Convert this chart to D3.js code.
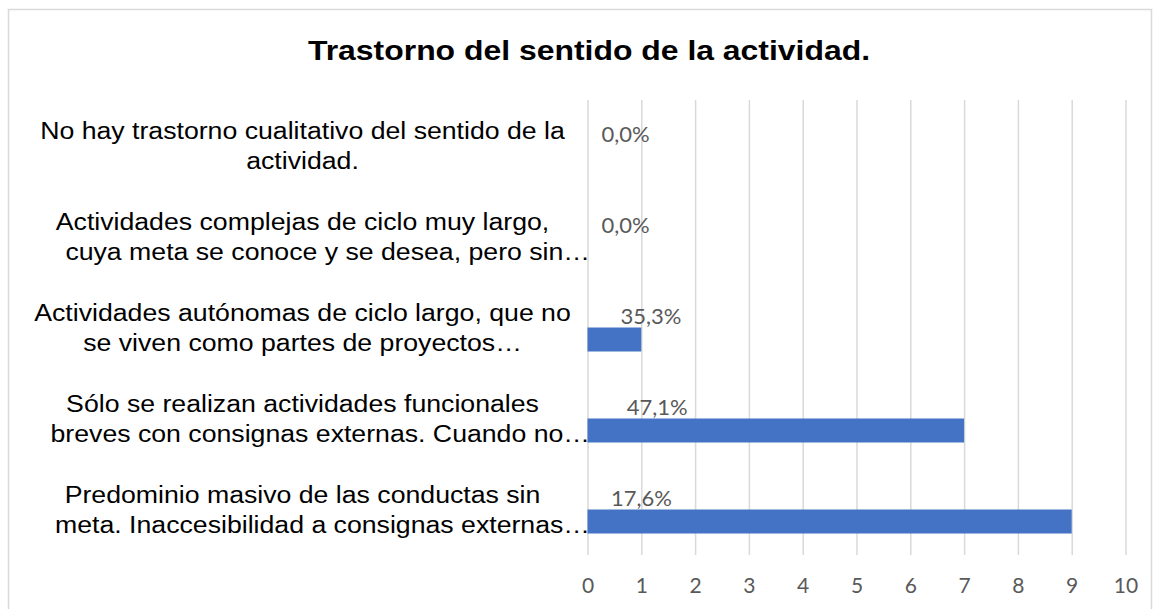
<!DOCTYPE html>
<html>
<head>
<meta charset="utf-8">
<script src="https://cdn.jsdelivr.net/npm/d3@7"></script>
<style>
  body { margin: 0; background: #fff; }
</style>
</head>
<body>
<svg id="chart" width="1153" height="609"></svg>
<script>
// chart data
var title = "Trastorno del sentido de la actividad."
var categoryLines = [
  ["No hay trastorno cualitativo del sentido de la", "actividad."],
  ["Actividades complejas de ciclo muy largo,", "cuya meta se conoce y se desea, pero sin\u2026"],
  ["Actividades autónomas de ciclo largo, que no", "se viven como partes de proyectos\u2026"],
  ["Sólo se realizan actividades funcionales", "breves con consignas externas. Cuando no\u2026"],
  ["Predominio masivo de las conductas sin", "meta. Inaccesibilidad a consignas externas\u2026"]
]
var counts = [0, 0, 1, 7, 9]
var percents = [0.0, 0.0, 35.3, 47.1, 17.6]
var xTicks = [0, 1, 2, 3, 4, 5, 6, 7, 8, 9, 10]

var svg = d3.select("#chart")
var width = 1153
var height = 609
var plot = { left: 587.5, right: 1125.5, top: 100, bottom: 555 }

var esLocale = d3.formatLocale({ decimal: ",", thousands: ".", grouping: [3], currency: ["", "\u20ac"] })
var fmtPct = esLocale.format(".1f")

var rows = categoryLines.map(function(lines, i) {
  return { key: "c" + i, lines: lines, count: counts[i], pct: percents[i] }
})

var x = d3.scaleLinear().domain([0, 10]).range([plot.left, plot.right])
var y = d3.scaleBand().domain(rows.map(d => d.key)).range([plot.top, plot.bottom])
var barH = 24
var sub = d3.scaleBand().domain(["pct", "count"])
  .range([y.bandwidth() / 2 - barH, y.bandwidth() / 2 + barH])

// chart border
svg.append("rect")
  .attr("x", 8.5).attr("y", 9.5)
  .attr("width", width - 10).attr("height", height + 20)
  .attr("fill", "none")
  .attr("stroke", "#d9d9d9")
  .attr("stroke-width", 1.5)

// title (the source picture is stretched sideways a bit)
svg.append("text")
  .attr("transform", "translate(589,60) scale(1.14,1)")
  .attr("text-anchor", "middle")
  .style("font-family", "'Liberation Sans', Arial, sans-serif")
  .style("font-weight", "bold")
  .style("font-size", "28px")
  .attr("fill", "#000")
  .text(title)

// gridlines
svg.append("g")
  .attr("transform", "translate(0," + plot.bottom + ")")
  .call(d3.axisBottom(x).tickValues(xTicks).tickSize(-(plot.bottom - plot.top)).tickFormat(""))
  .call(g => g.select(".domain").remove())
  .call(g => g.selectAll("line").attr("stroke", "#d9d9d9").attr("stroke-width", 1.5))

// tick labels
svg.append("g")
  .attr("transform", "translate(0," + plot.bottom + ")")
  .call(d3.axisBottom(x).tickValues(xTicks).tickSize(0).tickPadding(0))
  .call(g => g.select(".domain").remove())
  .call(g => g.selectAll("text")
    .attr("y", 38)
    .attr("dy", null)
    .attr("fill", "#595959")
    .style("font-family", "Lato, 'Open Sans', sans-serif")
    .style("font-size", "21px"))

// bars
svg.append("g").selectAll("rect")
  .data(rows)
  .join("rect")
  .attr("x", x(0))
  .attr("y", d => y(d.key) + sub("count"))
  .attr("width", d => x(d.count) - x(0))
  .attr("height", sub.bandwidth())
  .attr("fill", "#4472c4")

// percentage labels (hidden percentage series, outside end)
svg.append("g").selectAll("text")
  .data(rows)
  .join("text")
  .attr("x", d => x(d.pct / 100) + 14)
  .attr("y", d => y(d.key) + sub("pct") + sub.bandwidth() / 2)
  .attr("dominant-baseline", "central")
  .attr("fill", "#595959")
  .style("font-family", "Lato, 'Open Sans', sans-serif")
  .style("font-size", "22px")
  .text(d => fmtPct(d.pct) + "%")

// category labels
var labelCx = 302.5
var labelSx = 1.16
var labelRight = 590
var cat = svg.append("g").selectAll("text")
  .data(rows)
  .join("text")
  .attr("transform", "translate(" + labelCx + ",0) scale(" + labelSx + ",1)")
  .attr("text-anchor", "middle")
  .attr("fill", "#000")
  .style("font-family", "'Liberation Sans', Arial, sans-serif")
  .style("font-size", "23px")

cat.selectAll("tspan")
  .data(d => d.lines.map((l, i) => ({ text: l, i: i, n: d.lines.length, key: d.key })))
  .join("tspan")
  .attr("x", 0)
  .attr("y", d => y(d.key) + y.bandwidth() / 2 + 9 + (d.i - (d.n - 1) / 2) * 30)
  .text(d => d.text)
  .each(function(d) {
    // long truncated lines run up to the axis, like the original
    var w = this.getComputedTextLength() * labelSx
    if (d.text.endsWith("\u2026") && w > 500) {
      d3.select(this).attr("text-anchor", "end").attr("x", (labelRight - labelCx) / labelSx)
    }
  })
</script>
</body>
</html>
